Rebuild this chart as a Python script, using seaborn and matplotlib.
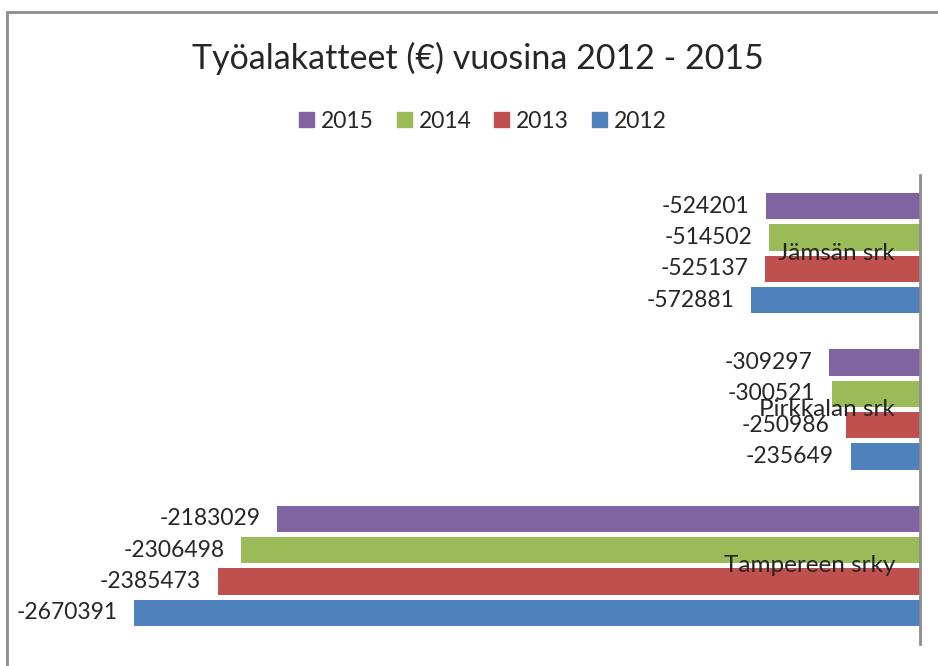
import matplotlib
matplotlib.use("Agg")
import matplotlib.pyplot as plt
from matplotlib.patches import Rectangle
import seaborn as sns
import pandas as pd

# ---- Data ----
seurakunnat = ["Jämsän srk", "Pirkkalan srk", "Tampereen srky"]
vuodet = ["2015", "2014", "2013", "2012"]
v2015 = [-524201, -309297, -2183029]
v2014 = [-514502, -300521, -2306498]
v2013 = [-525137, -250986, -2385473]
v2012 = [-572881, -235649, -2670391]
varit = {"2015": "#8064A2", "2014": "#9BBB59", "2013": "#C0504D", "2012": "#4F81BD"}

df = pd.DataFrame({"srk": seurakunnat, "2015": v2015, "2014": v2014,
                   "2013": v2013, "2012": v2012})
df = df.melt(id_vars="srk", var_name="vuosi", value_name="kate")

# ---- Plot ----
sns.set_style("white")
plt.rcParams["font.family"] = ["Lato", "DejaVu Sans"]

fig = plt.figure(figsize=(9.38, 6.66), dpi=100)
ax = fig.add_axes([37 / 938, 1 - 644 / 666, (920 - 37) / 938, (644 - 175) / 666])

sns.barplot(data=df, x="kate", y="srk", hue="vuosi", order=seurakunnat,
            hue_order=vuodet, palette=varit, orient="h", width=0.8, gap=0.16,
            saturation=1, edgecolor="none", ax=ax, legend=False)

for c in ax.containers:
    ax.bar_label(c, fmt="%d", padding=12, fontsize=16.5)

ax.set_xlim(-3000000, 0)
ax.set_ylim(2.5, -0.5)
ax.set_xticks([])
ax.set_yticks([])
ax.set_xlabel("")
ax.set_ylabel("")
for s in ["top", "left", "bottom"]:
    ax.spines[s].set_visible(False)
ax.spines["right"].set_color("#8c8c8c")
ax.spines["right"].set_linewidth(2)

# category labels next to the axis, inside the plot (overlap as in Excel original)
for i, nimi in enumerate(seurakunnat):
    ax.annotate(nimi, xy=(0, i), xytext=(-25, 0), textcoords="offset pixels",
                ha="right", va="center", fontsize=17.5)

# legend
handles = [Rectangle((0, 0), 1, 1, color=varit[v]) for v in vuodet]
fig.legend(handles, vuodet, loc="center", bbox_to_anchor=(483 / 938, 1 - 121 / 666),
           ncol=4, frameon=False, fontsize=16.5, handlelength=0.65, handleheight=0.65,
           columnspacing=1.0, handletextpad=0.3)

fig.text(478 / 938, 1 - 58 / 666, "Työalakatteet (€) vuosina 2012 - 2015",
         ha="center", va="center", fontsize=24.5)

# chart frame (left and top edges visible)
fig.patches.append(Rectangle((7 / 938, -0.1), 1.2, 1 - 12 / 666 + 0.1,
                             transform=fig.transFigure, fill=False,
                             edgecolor="#8c8c8c", linewidth=2))

fig.savefig("out.png", dpi=100)
